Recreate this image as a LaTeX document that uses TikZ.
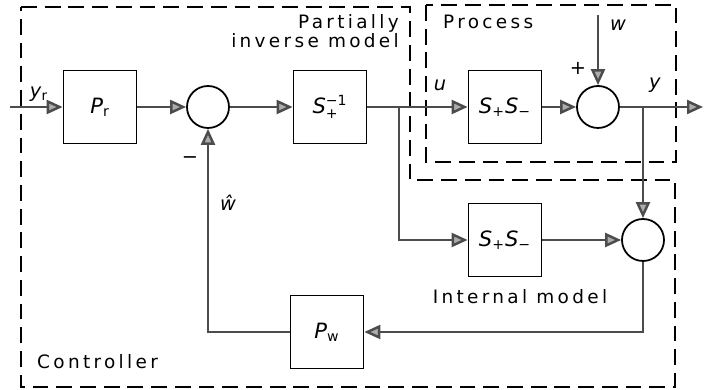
\documentclass[tikz,border=0pt]{standalone}
\usepackage{amsmath}
\usepackage{fontspec}
\setmainfont{DejaVu Sans}[LetterSpace=18]
\newfontfamily\mfont{DejaVu Sans}
\usetikzlibrary{arrows.meta}
\tikzset{
  >={Triangle[length=3.2mm,width=2.8mm,fill=gray!65]},
  blk/.style={draw,line width=1pt,minimum size=14.6mm,inner sep=0pt,font=\mfont\fontsize{12}{12}\selectfont},
  sm/.style={circle,draw,line width=1pt,minimum size=8.4mm,inner sep=0pt},
  sig/.style={draw=black!70,line width=1.4pt},
  lv/.style={font=\mfont\fontsize{11}{11}\selectfont},
  bnd/.style={line width=0.9pt,dash pattern=on 9pt off 4.5pt},
  every picture/.style={font=\fontsize{10.5}{10.5}\selectfont},
}
\begin{document}
\begin{tikzpicture}
\useasboundingbox (0,0) rectangle (14.08,7.8);
\draw[bnd] (0.42,7.66) -- (8.2,7.66) -- (8.2,4.2) -- (13.5,4.2) -- (13.5,0.06) -- (0.42,0.06) -- cycle;
\draw[bnd] (8.52,7.7) rectangle (13.52,4.56);
\node[anchor=east,align=right] (pim) at (8.1,7.18) {Partially\\inverse model};
\node[anchor=west] (prc) at (8.74,7.36) {Process};
\node[anchor=west] (ctl) at (0.62,0.56) {Controller};
\node (im) at (10.4,1.86) {Internal model};
\node[blk] (pr) at (2.0,5.66) {\textit{P}\textsubscript{r}};
\node[sm] (s1) at (4.16,5.66) {};
\node[blk] (sinv) at (6.6,5.66) {\textit{S}$^{\text{−1}}_{\text{+}}$};
\node[blk] (sp) at (10.1,5.66) {\textit{S}\textsubscript{+}\textit{S}\textsubscript{−}};
\node[sm] (s2) at (11.96,5.66) {};
\node[blk] (sim) at (10.1,3.0) {\textit{S}\textsubscript{+}\textit{S}\textsubscript{−}};
\node[sm] (s3) at (12.86,3.0) {};
\node[blk] (pw) at (6.54,1.16) {\textit{P}\textsubscript{w}};
\coordinate (in) at (0.2,5.66);
\coordinate (out) at (14.06,5.66);
\coordinate (wtop) at (11.96,7.5);
\coordinate (ju) at (7.98,5.66);
\coordinate (jy) at (12.86,5.66);
\node[lv] (lyr) at (0.78,5.92) {\textit{y}\textsubscript{r}};
\node[lv] (lw) at (12.36,7.3) {\textit{w}};
\node[lv] (lplus) at (11.56,6.44) {+};
\node[lv] (ly) at (13.1,6.1) {\textit{y}};
\node[lv] (lu) at (8.8,6.1) {\textit{u}};
\node[lv] (lminus) at (3.8,4.6) {−};
\node[lv] (lwh) at (4.56,3.74) {\textit{ŵ}};
\draw[sig,->] (in) -- (pr);
\draw[sig,->] (pr) -- (s1);
\draw[sig,->] (s1) -- (sinv);
\draw[sig,->] (sinv) -- (sp);
\draw[sig,->] (sp) -- (s2);
\draw[sig,->] (wtop) -- (s2);
\draw[sig,->] (s2) -- (out);
\draw[sig,->] (ju) |- (sim);
\draw[sig,->] (sim) -- (s3);
\draw[sig,->] (jy) -- (s3);
\draw[sig,->] (s3) |- (pw);
\draw[sig,->] (pw) -| (s1);
\end{tikzpicture}
\end{document}
